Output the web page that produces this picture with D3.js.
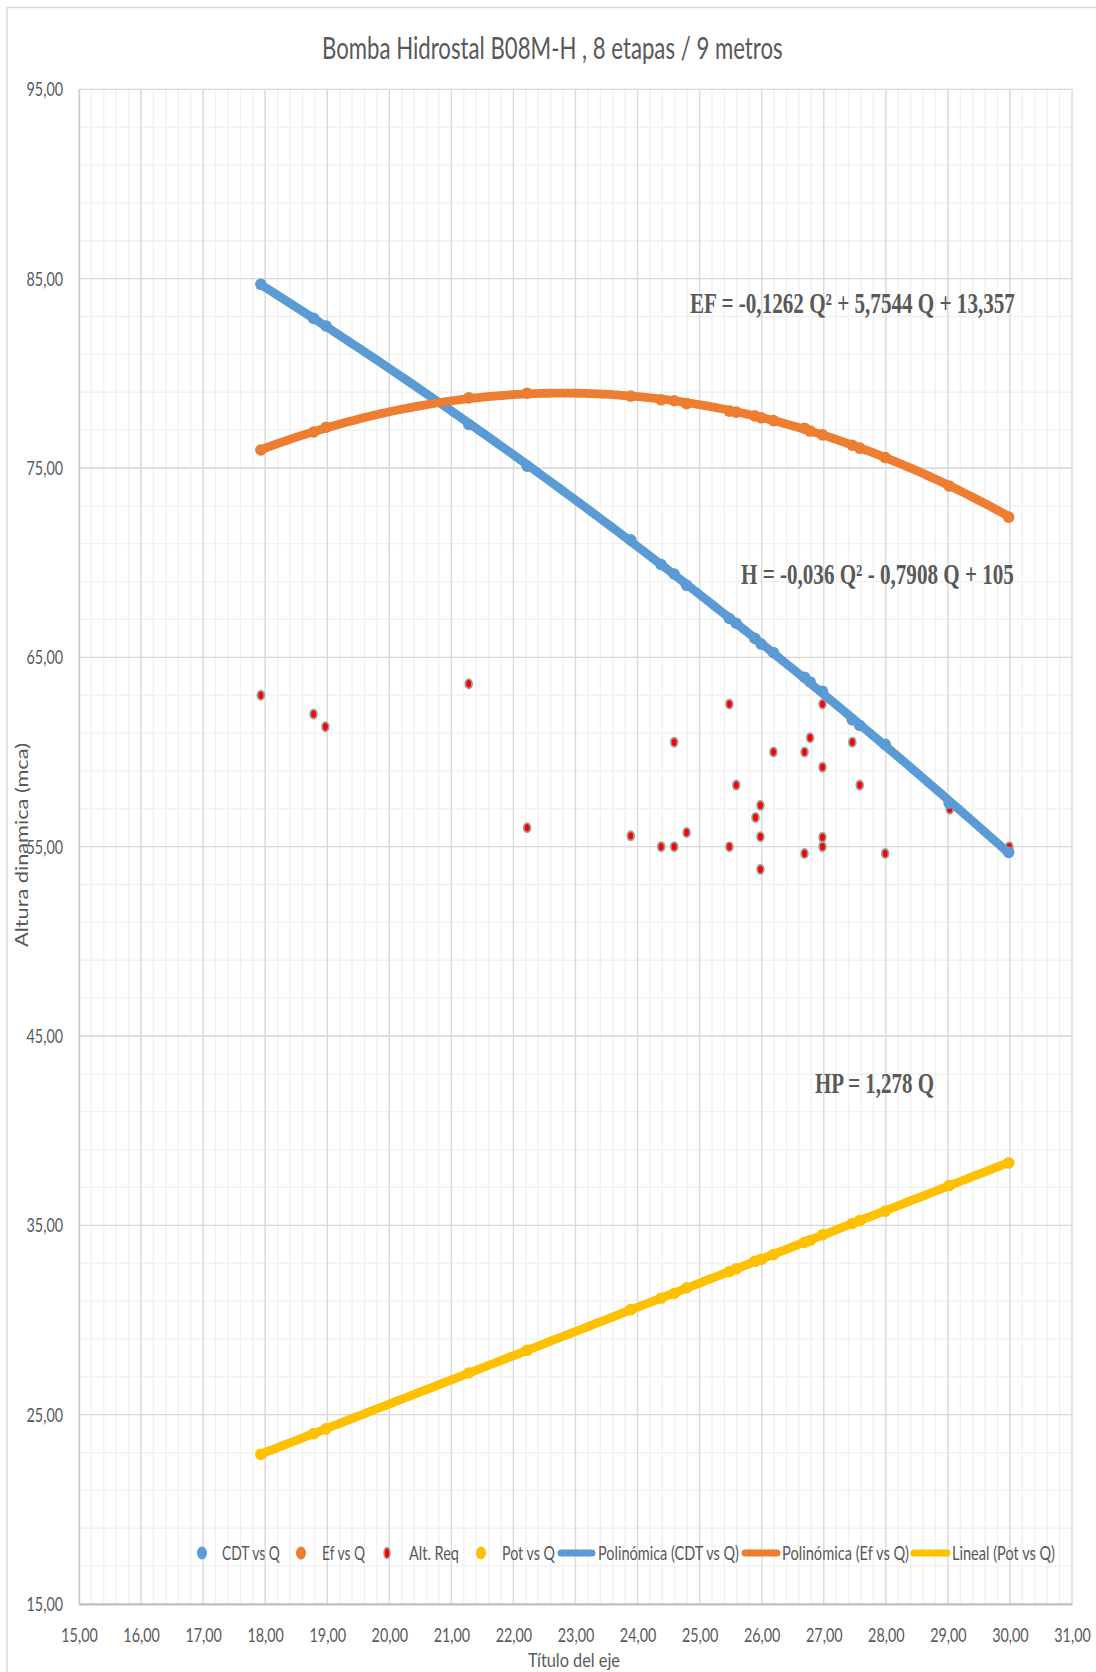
<!DOCTYPE html>
<html>
<head>
<meta charset="utf-8">
<script src="https://cdn.jsdelivr.net/npm/d3@7"></script>
<style>
  body { margin: 0; background: #fff; }
  svg { display: block; }
</style>
</head>
<body>
<svg id="chart" width="1096" height="1672"></svg>
<script>
// Pump curve data: flow Q (l/s) against head, efficiency and power
const caudal = [17.93, 18.78, 18.98, 21.28, 22.22, 23.89, 24.38, 24.59, 24.79, 25.48, 25.59,
                25.89, 25.99, 26.19, 26.69, 26.78, 26.98, 27.46, 27.58, 27.99, 29.02, 29.98];
const cdt = [84.7, 82.9, 82.5, 77.3, 75.1, 71.2, 69.9, 69.4, 68.8, 67.05, 66.8,
             66.0, 65.7, 65.25, 63.95, 63.7, 63.2, 61.7, 61.4, 60.4, 57.3, 54.7];
const eficiencia = [75.95, 76.9, 77.15, 78.7, 78.95, 78.8, 78.6, 78.55, 78.4, 78.0, 77.95,
                    77.75, 77.65, 77.5, 77.1, 76.95, 76.75, 76.2, 76.05, 75.55, 74.05, 72.4];
const potencia = [22.9, 24.0, 24.25, 27.2, 28.4, 30.55, 31.15, 31.4, 31.7, 32.55, 32.7,
                  33.1, 33.2, 33.45, 34.1, 34.2, 34.5, 35.1, 35.25, 35.75, 37.1, 38.3];

// Required head at each operating point
const reqQ = [17.93, 18.78, 18.97, 21.28, 22.22, 23.89, 24.38, 24.59, 24.59, 24.79,
              25.48, 25.48, 25.59, 25.9, 25.98, 25.98, 25.98, 26.19, 26.69, 26.69,
              26.78, 26.98, 26.98, 26.98, 26.98, 27.46, 27.58, 27.99, 29.03, 29.99];
const reqH = [63.0, 62.0, 61.33, 63.6, 56.0, 55.57, 55.0, 55.0, 60.52, 55.75,
              62.53, 55.0, 58.25, 56.54, 57.18, 55.52, 53.8, 60.0, 60.0, 54.64,
              60.75, 62.53, 59.2, 55.49, 55.0, 60.52, 58.25, 54.64, 56.98, 55.0];

// Trendline coefficients (constant, Q, Q^2) as given in the equation labels
const coefEf = [13.357, 5.7544, -0.1262];
const coefPot = [0, 1.278];

const xTicks = d3.range(15, 31.001, 1);
const yTicks = d3.range(15, 95.001, 10);

const chartTitle = "Bomba Hidrostal B08M-H , 8 etapas / 9 metros";
const xTitle = "Título del eje";
const yTitle = "Altura dinamica (mca)";
const legendLabels = ["CDT vs Q", "Ef vs Q", "Alt. Req", "Pot vs Q",
                      "Polinómica (CDT vs Q)", "Polinómica (Ef vs Q)", "Lineal (Pot vs Q)"];
const eqLabels = ["EF = -0,1262 Q² + 5,7544 Q + 13,357", "H = -0,036 Q² - 0,7908 Q + 105", "HP = 1,278 Q"];

// ---------------------------------------------------------------------------
const C = { blue: "#5B9BD5", orange: "#ED7D31", red: "#FF0000", yellow: "#FFC000",
            text: "#595959", major: "#d9d9d9", minor: "#f0f0f0" };
const sans = "Lato, 'Open Sans', sans-serif";
const serif = "'Liberation Serif', 'DejaVu Serif', serif";

const svg = d3.select("#chart");
const plot = { left: 79, right: 1072, top: 89.3, bottom: 1604 };

const x = d3.scaleLinear().domain([15, 31]).range([plot.left, plot.right]);
const y = d3.scaleLinear().domain([15, 95]).range([plot.bottom, plot.top]);

const loc = d3.formatLocale({ decimal: ",", thousands: ".", grouping: [3], currency: ["", ""] });
const fmt = loc.format(".2f");

// Narrow a text horizontally to a given width (the chart uses tall, condensed lettering)
function squeeze(sel, width) {
  sel.each(function () {
    const t = d3.select(this);
    const k = width / this.getComputedTextLength();
    const base = t.attr("transform") || "";
    const x0 = +t.attr("x") || 0, y0 = +t.attr("y") || 0;
    t.attr("x", 0).attr("y", 0)
      .attr("transform", `${base} translate(${x0},${y0}) scale(${k},1)`);
  });
}

// outer chart frame
svg.append("rect").attr("x", 7).attr("y", 7.5).attr("width", 1200).attr("height", 1800)
  .attr("fill", "#fff").attr("stroke", "#d9d9d9").attr("stroke-width", 1.5);

// minor grid
const grid = svg.append("g");
grid.selectAll(".vmin").data(d3.range(15, 31.001, 0.2)).join("line")
  .attr("x1", d => x(d)).attr("x2", d => x(d)).attr("y1", plot.top).attr("y2", plot.bottom)
  .attr("stroke", C.minor).attr("stroke-width", 1.3);
grid.selectAll(".hmin").data(d3.range(15, 95.001, 2)).join("line")
  .attr("x1", plot.left).attr("x2", plot.right).attr("y1", d => y(d)).attr("y2", d => y(d))
  .attr("stroke", C.minor).attr("stroke-width", 1.3);
// major grid
grid.selectAll(".vmaj").data(xTicks).join("line")
  .attr("x1", d => x(d)).attr("x2", d => x(d)).attr("y1", plot.top).attr("y2", plot.bottom)
  .attr("stroke", C.major).attr("stroke-width", 1.3);
grid.selectAll(".hmaj").data(yTicks).join("line")
  .attr("x1", plot.left).attr("x2", plot.right).attr("y1", d => y(d)).attr("y2", d => y(d))
  .attr("stroke", C.major).attr("stroke-width", 1.3);

// axes
const yAxis = svg.append("g").attr("transform", `translate(${plot.left},0)`)
  .call(d3.axisLeft(y).tickValues(yTicks).tickFormat(fmt).tickSize(0).tickPadding(16));
const xAxis = svg.append("g").attr("transform", `translate(0,${plot.bottom})`)
  .call(d3.axisBottom(x).tickValues(xTicks).tickFormat(fmt).tickSize(0).tickPadding(0));
yAxis.select(".domain").attr("stroke", "#cfcfcf").attr("stroke-width", 1.5);
xAxis.select(".domain").attr("stroke", "#bfbfbf").attr("stroke-width", 1.8);
[yAxis, xAxis].forEach(a => a.selectAll("text")
  .attr("fill", C.text).style("font-family", sans).style("font-size", "18.5px"));
yAxis.selectAll("text").attr("dy", "0.36em");
xAxis.selectAll("text").attr("y", 38).attr("dy", 0);
squeeze(yAxis.selectAll("text"), 36.5);
squeeze(xAxis.selectAll("text"), 36.5);

// markers
function dots(qs, vs, color) {
  svg.append("g").selectAll("circle").data(qs).join("circle")
    .attr("cx", d => x(d)).attr("cy", (d, i) => y(vs[i])).attr("r", 5.8)
    .attr("fill", color);
}
svg.append("g").selectAll("ellipse").data(reqQ).join("ellipse")
  .attr("cx", d => x(d)).attr("cy", (d, i) => y(reqH[i]))
  .attr("rx", 3.4).attr("ry", 4.6)
  .attr("fill", C.red).attr("stroke", "#a0a0a0").attr("stroke-width", 1.8);
dots(caudal, cdt, C.blue);
dots(caudal, eficiencia, C.orange);
dots(caudal, potencia, C.yellow);

// least-squares quadratic through the head points
function fitQuadratic(xs, ys) {
  const s = k => d3.sum(xs, v => Math.pow(v, k));
  const t = k => d3.sum(xs, (v, i) => Math.pow(v, k) * ys[i]);
  const A = [[s(0), s(1), s(2)], [s(1), s(2), s(3)], [s(2), s(3), s(4)]];
  const b = [t(0), t(1), t(2)];
  for (let i = 0; i < 3; i++) {
    for (let j = i + 1; j < 3; j++) {
      const f = A[j][i] / A[i][i];
      for (let k = i; k < 3; k++) A[j][k] -= f * A[i][k];
      b[j] -= f * b[i];
    }
  }
  const c = [0, 0, 0];
  for (let i = 2; i >= 0; i--) {
    let acc = b[i];
    for (let k = i + 1; k < 3; k++) acc -= A[i][k] * c[k];
    c[i] = acc / A[i][i];
  }
  return c;
}
const coefCdt = fitQuadratic(caudal, cdt);
const poly = c => q => c.reduce((acc, a, k) => acc + a * Math.pow(q, k), 0);

const qMin = d3.min(caudal), qMax = d3.max(caudal);
const qs = d3.range(0, 121).map(i => qMin + (qMax - qMin) * i / 120);
const line = d3.line().x(d => x(d[0])).y(d => y(d[1]));
function trend(fn, color) {
  svg.append("path").datum(qs.map(q => [q, fn(q)])).attr("d", line)
    .attr("fill", "none").attr("stroke", color).attr("stroke-width", 8.8)
    .attr("stroke-linecap", "round").attr("stroke-linejoin", "round");
}
trend(poly(coefCdt), C.blue);
trend(poly(coefEf), C.orange);
trend(poly(coefPot), C.yellow);

// equation labels
const eqPos = [[690, 313, 325], [741, 584, 273], [815, 1093, 119]];
eqLabels.forEach((t, i) => {
  const el = svg.append("text").attr("x", eqPos[i][0]).attr("y", eqPos[i][1])
    .attr("fill", C.text).style("font-family", serif).style("font-weight", "bold")
    .style("font-size", "29px").text(t);
  squeeze(el, eqPos[i][2]);
});

// titles
squeeze(svg.append("text").attr("x", 322).attr("y", 59).attr("fill", C.text)
  .style("font-family", sans).style("font-size", "30px").text(chartTitle), 461);
squeeze(svg.append("text").attr("x", 528).attr("y", 1666.5).attr("fill", C.text)
  .style("font-family", sans).style("font-size", "20px").text(xTitle), 92);
squeeze(svg.append("text").attr("transform", "translate(28,845) rotate(-90)")
  .attr("text-anchor", "middle").attr("fill", C.text)
  .style("font-family", sans).style("font-size", "17.5px").text(yTitle), 204);

// legend
const legendY = 1553;
const legendItems = [
  { kind: "dot", color: C.blue, mx: 202, tx: 222, w: 58 },
  { kind: "dot", color: C.orange, mx: 301, tx: 322, w: 43 },
  { kind: "req", color: C.red, mx: 387, tx: 409, w: 50 },
  { kind: "dot", color: C.yellow, mx: 481, tx: 502, w: 53 },
  { kind: "line", color: C.blue, mx: [561, 592], tx: 598, w: 141 },
  { kind: "line", color: C.orange, mx: [745, 777], tx: 782, w: 127 },
  { kind: "line", color: C.yellow, mx: [914, 947], tx: 952, w: 103 }
];
const lg = svg.append("g");
legendItems.forEach((it, i) => {
  if (it.kind === "dot") {
    lg.append("ellipse").attr("cx", it.mx).attr("cy", legendY).attr("rx", 5).attr("ry", 6.5)
      .attr("fill", it.color);
  } else if (it.kind === "req") {
    lg.append("ellipse").attr("cx", it.mx).attr("cy", legendY).attr("rx", 3).attr("ry", 5.4)
      .attr("fill", it.color).attr("stroke", "#a0a0a0").attr("stroke-width", 1.6);
  } else {
    lg.append("line").attr("x1", it.mx[0]).attr("x2", it.mx[1]).attr("y1", legendY).attr("y2", legendY)
      .attr("stroke", it.color).attr("stroke-width", 7).attr("stroke-linecap", "round");
  }
  squeeze(lg.append("text").attr("x", it.tx).attr("y", legendY + 6.7)
    .attr("fill", C.text).style("font-family", sans).style("font-size", "18.5px")
    .text(legendLabels[i]), it.w);
});
</script>
</body>
</html>
